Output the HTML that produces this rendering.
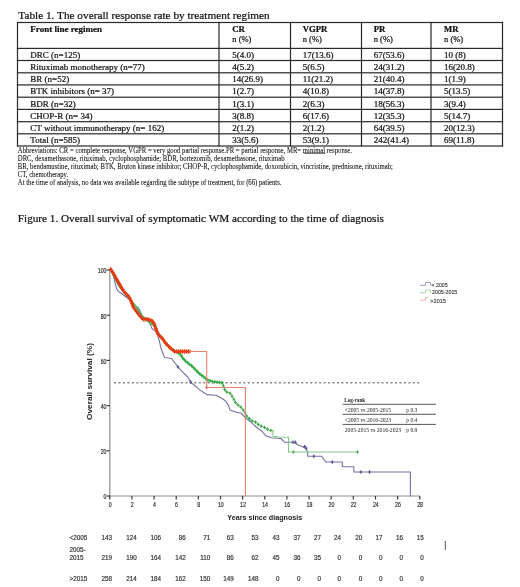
<!DOCTYPE html>
<html><head><meta charset="utf-8"><style>
html,body{margin:0;padding:0;background:#fff;width:520px;height:587px;overflow:hidden;font-family:"Liberation Serif",serif;}
</style></head><body>
<svg width="520" height="587" viewBox="0 0 520 587" style="position:absolute;left:0;top:0;will-change:transform">
<text x="18.3" y="18.8" font-family="Liberation Serif" font-size="11.27" fill="#111" stroke="#111" stroke-width="0.22">Table 1. The overall response rate by treatment regimen</text>
<rect x="16.9" y="21.9" width="486.2" height="1.2" fill="#2a2a2a"/>
<rect x="16.9" y="47.8" width="486.2" height="1.2" fill="#2a2a2a"/>
<rect x="16.9" y="59.9" width="486.2" height="1.2" fill="#2a2a2a"/>
<rect x="16.9" y="72.2" width="486.2" height="1.2" fill="#2a2a2a"/>
<rect x="16.9" y="84.30000000000001" width="486.2" height="1.2" fill="#2a2a2a"/>
<rect x="16.9" y="96.60000000000001" width="486.2" height="1.2" fill="#2a2a2a"/>
<rect x="16.9" y="108.80000000000001" width="486.2" height="1.2" fill="#2a2a2a"/>
<rect x="16.9" y="121.10000000000001" width="486.2" height="1.2" fill="#2a2a2a"/>
<rect x="16.9" y="133.20000000000002" width="486.2" height="1.2" fill="#2a2a2a"/>
<rect x="16.9" y="145.4" width="486.2" height="1.2" fill="#2a2a2a"/>
<rect x="16.9" y="21.9" width="1.2" height="124.7" fill="#2a2a2a"/>
<rect x="218.4" y="21.9" width="1.2" height="124.7" fill="#2a2a2a"/>
<rect x="289.9" y="21.9" width="1.2" height="124.7" fill="#2a2a2a"/>
<rect x="360.9" y="21.9" width="1.2" height="124.7" fill="#2a2a2a"/>
<rect x="430.4" y="21.9" width="1.2" height="124.7" fill="#2a2a2a"/>
<rect x="501.9" y="21.9" width="1.2" height="124.7" fill="#2a2a2a"/>
<text x="30.3" y="31.5" font-family="Liberation Serif" font-size="9" font-weight="bold" fill="#111" stroke="#111" stroke-width="0.22">Front line regimen</text>
<text x="232.3" y="31.5" font-family="Liberation Serif" font-size="8.7" font-weight="bold" fill="#111" stroke="#111" stroke-width="0.22">CR</text>
<text x="232.3" y="42" font-family="Liberation Serif" font-size="8.5" fill="#111" stroke="#111" stroke-width="0.22">n (%)</text>
<text x="302.7" y="31.5" font-family="Liberation Serif" font-size="8.7" font-weight="bold" fill="#111" stroke="#111" stroke-width="0.22">VGPR</text>
<text x="302.7" y="42" font-family="Liberation Serif" font-size="8.5" fill="#111" stroke="#111" stroke-width="0.22">n (%)</text>
<text x="373.7" y="31.5" font-family="Liberation Serif" font-size="8.7" font-weight="bold" fill="#111" stroke="#111" stroke-width="0.22">PR</text>
<text x="373.7" y="42" font-family="Liberation Serif" font-size="8.5" fill="#111" stroke="#111" stroke-width="0.22">n (%)</text>
<text x="444" y="31.5" font-family="Liberation Serif" font-size="8.7" font-weight="bold" fill="#111" stroke="#111" stroke-width="0.22">MR</text>
<text x="444" y="42" font-family="Liberation Serif" font-size="8.5" fill="#111" stroke="#111" stroke-width="0.22">n (%)</text>
<text x="30.3" y="57.7" font-family="Liberation Serif" font-size="9" fill="#111" stroke="#111" stroke-width="0.22">DRC (n=125)</text>
<text x="232.3" y="57.7" font-family="Liberation Serif" font-size="9" fill="#111" stroke="#111" stroke-width="0.22">5(4.0)</text>
<text x="302.7" y="57.7" font-family="Liberation Serif" font-size="9" fill="#111" stroke="#111" stroke-width="0.22">17(13.6)</text>
<text x="373.7" y="57.7" font-family="Liberation Serif" font-size="9" fill="#111" stroke="#111" stroke-width="0.22">67(53.6)</text>
<text x="444" y="57.7" font-family="Liberation Serif" font-size="9" fill="#111" stroke="#111" stroke-width="0.22">10 (8)</text>
<text x="30.3" y="69.8" font-family="Liberation Serif" font-size="9" fill="#111" stroke="#111" stroke-width="0.22">Rituximab monotherapy (n=77)</text>
<text x="232.3" y="69.8" font-family="Liberation Serif" font-size="9" fill="#111" stroke="#111" stroke-width="0.22">4(5.2)</text>
<text x="302.7" y="69.8" font-family="Liberation Serif" font-size="9" fill="#111" stroke="#111" stroke-width="0.22">5(6.5)</text>
<text x="373.7" y="69.8" font-family="Liberation Serif" font-size="9" fill="#111" stroke="#111" stroke-width="0.22">24(31.2)</text>
<text x="444" y="69.8" font-family="Liberation Serif" font-size="9" fill="#111" stroke="#111" stroke-width="0.22">16(20.8)</text>
<text x="30.3" y="82.1" font-family="Liberation Serif" font-size="9" fill="#111" stroke="#111" stroke-width="0.22">BR (n=52)</text>
<text x="232.3" y="82.1" font-family="Liberation Serif" font-size="9" fill="#111" stroke="#111" stroke-width="0.22">14(26.9)</text>
<text x="302.7" y="82.1" font-family="Liberation Serif" font-size="9" fill="#111" stroke="#111" stroke-width="0.22">11(21.2)</text>
<text x="373.7" y="82.1" font-family="Liberation Serif" font-size="9" fill="#111" stroke="#111" stroke-width="0.22">21(40.4)</text>
<text x="444" y="82.1" font-family="Liberation Serif" font-size="9" fill="#111" stroke="#111" stroke-width="0.22">1(1.9)</text>
<text x="30.3" y="94.2" font-family="Liberation Serif" font-size="9" fill="#111" stroke="#111" stroke-width="0.22">BTK inhibitors (n= 37)</text>
<text x="232.3" y="94.2" font-family="Liberation Serif" font-size="9" fill="#111" stroke="#111" stroke-width="0.22">1(2.7)</text>
<text x="302.7" y="94.2" font-family="Liberation Serif" font-size="9" fill="#111" stroke="#111" stroke-width="0.22">4(10.8)</text>
<text x="373.7" y="94.2" font-family="Liberation Serif" font-size="9" fill="#111" stroke="#111" stroke-width="0.22">14(37.8)</text>
<text x="444" y="94.2" font-family="Liberation Serif" font-size="9" fill="#111" stroke="#111" stroke-width="0.22">5(13.5)</text>
<text x="30.3" y="106.5" font-family="Liberation Serif" font-size="9" fill="#111" stroke="#111" stroke-width="0.22">BDR (n=32)</text>
<text x="232.3" y="106.5" font-family="Liberation Serif" font-size="9" fill="#111" stroke="#111" stroke-width="0.22">1(3.1)</text>
<text x="302.7" y="106.5" font-family="Liberation Serif" font-size="9" fill="#111" stroke="#111" stroke-width="0.22">2(6.3)</text>
<text x="373.7" y="106.5" font-family="Liberation Serif" font-size="9" fill="#111" stroke="#111" stroke-width="0.22">18(56.3)</text>
<text x="444" y="106.5" font-family="Liberation Serif" font-size="9" fill="#111" stroke="#111" stroke-width="0.22">3(9.4)</text>
<text x="30.3" y="118.7" font-family="Liberation Serif" font-size="9" fill="#111" stroke="#111" stroke-width="0.22">CHOP-R (n= 34)</text>
<text x="232.3" y="118.7" font-family="Liberation Serif" font-size="9" fill="#111" stroke="#111" stroke-width="0.22">3(8.8)</text>
<text x="302.7" y="118.7" font-family="Liberation Serif" font-size="9" fill="#111" stroke="#111" stroke-width="0.22">6(17.6)</text>
<text x="373.7" y="118.7" font-family="Liberation Serif" font-size="9" fill="#111" stroke="#111" stroke-width="0.22">12(35.3)</text>
<text x="444" y="118.7" font-family="Liberation Serif" font-size="9" fill="#111" stroke="#111" stroke-width="0.22">5(14.7)</text>
<text x="30.3" y="131.0" font-family="Liberation Serif" font-size="9" fill="#111" stroke="#111" stroke-width="0.22">CT without immunotherapy (n= 162)</text>
<text x="232.3" y="131.0" font-family="Liberation Serif" font-size="9" fill="#111" stroke="#111" stroke-width="0.22">2(1.2)</text>
<text x="302.7" y="131.0" font-family="Liberation Serif" font-size="9" fill="#111" stroke="#111" stroke-width="0.22">2(1.2)</text>
<text x="373.7" y="131.0" font-family="Liberation Serif" font-size="9" fill="#111" stroke="#111" stroke-width="0.22">64(39.5)</text>
<text x="444" y="131.0" font-family="Liberation Serif" font-size="9" fill="#111" stroke="#111" stroke-width="0.22">20(12.3)</text>
<text x="30.3" y="143.1" font-family="Liberation Serif" font-size="9" fill="#111" stroke="#111" stroke-width="0.22">Total (n=585)</text>
<text x="232.3" y="143.1" font-family="Liberation Serif" font-size="9" fill="#111" stroke="#111" stroke-width="0.22">33(5.6)</text>
<text x="302.7" y="143.1" font-family="Liberation Serif" font-size="9" fill="#111" stroke="#111" stroke-width="0.22">53(9.1)</text>
<text x="373.7" y="143.1" font-family="Liberation Serif" font-size="9" fill="#111" stroke="#111" stroke-width="0.22">242(41.4)</text>
<text x="444" y="143.1" font-family="Liberation Serif" font-size="9" fill="#111" stroke="#111" stroke-width="0.22">69(11.8)</text>
<text x="17.8" y="152.9" font-family="Liberation Serif" font-size="7.5" fill="#111" stroke="#111" stroke-width="0.08" textLength="334.2" lengthAdjust="spacingAndGlyphs">Abbreviations: CR = complete response, VGPR = very good partial response.PR = partial response, MR= minimal response.</text>
<text x="17.8" y="160.8" font-family="Liberation Serif" font-size="7.5" fill="#111" stroke="#111" stroke-width="0.08" textLength="266.8" lengthAdjust="spacingAndGlyphs">DRC, dexamethasone, rituximab, cyclophosphamide; BDR, bortezomib, dexamethasone, rituximab</text>
<text x="17.8" y="168.6" font-family="Liberation Serif" font-size="7.5" fill="#111" stroke="#111" stroke-width="0.08" textLength="375.2" lengthAdjust="spacingAndGlyphs">BR, bendamustine, rituximab; BTK, Bruton kinase inhibitor; CHOP-R, cyclophosphamide, doxorubicin, vincristine, prednisone, rituximab;</text>
<text x="17.8" y="176.6" font-family="Liberation Serif" font-size="7.5" fill="#111" stroke="#111" stroke-width="0.08" textLength="50.4" lengthAdjust="spacingAndGlyphs">CT, chemotherapy.</text>
<text x="17.8" y="184.5" font-family="Liberation Serif" font-size="7.5" fill="#111" stroke="#111" stroke-width="0.08" textLength="263.7" lengthAdjust="spacingAndGlyphs">At the time of analysis, no data was available regarding the subtype of treatment, for (66) patients.</text>
<rect x="303.5" y="152.8" width="22" height="0.8" fill="#222"/>
<text x="17.8" y="222.3" font-family="Liberation Serif" font-size="11.2" fill="#111" stroke="#111" stroke-width="0.22">Figure 1. Overall survival of symptomatic WM according to the time of diagnosis</text>
<line x1="109.8" y1="269.5" x2="109.8" y2="496.0" stroke="#8c8c8c" stroke-width="1.2"/>
<line x1="109.8" y1="496.0" x2="420.26000000000005" y2="496.0" stroke="#8c8c8c" stroke-width="1.2"/>
<line x1="106.6" y1="496.0" x2="109.8" y2="496.0" stroke="#3a3a3a" stroke-width="1.2"/>
<text x="106.5" y="499.3" font-family="Liberation Sans" font-size="6.4" fill="#222" stroke="#222" stroke-width="0.15" text-anchor="end" textLength="2.9" lengthAdjust="spacingAndGlyphs">0</text>
<line x1="106.6" y1="450.8" x2="109.8" y2="450.8" stroke="#3a3a3a" stroke-width="1.2"/>
<text x="106.5" y="454.1" font-family="Liberation Sans" font-size="6.4" fill="#222" stroke="#222" stroke-width="0.15" text-anchor="end" textLength="5.8" lengthAdjust="spacingAndGlyphs">20</text>
<line x1="106.6" y1="405.6" x2="109.8" y2="405.6" stroke="#3a3a3a" stroke-width="1.2"/>
<text x="106.5" y="408.9" font-family="Liberation Sans" font-size="6.4" fill="#222" stroke="#222" stroke-width="0.15" text-anchor="end" textLength="5.8" lengthAdjust="spacingAndGlyphs">40</text>
<line x1="106.6" y1="360.4" x2="109.8" y2="360.4" stroke="#3a3a3a" stroke-width="1.2"/>
<text x="106.5" y="363.7" font-family="Liberation Sans" font-size="6.4" fill="#222" stroke="#222" stroke-width="0.15" text-anchor="end" textLength="5.8" lengthAdjust="spacingAndGlyphs">60</text>
<line x1="106.6" y1="315.20000000000005" x2="109.8" y2="315.20000000000005" stroke="#3a3a3a" stroke-width="1.2"/>
<text x="106.5" y="318.5" font-family="Liberation Sans" font-size="6.4" fill="#222" stroke="#222" stroke-width="0.15" text-anchor="end" textLength="5.8" lengthAdjust="spacingAndGlyphs">80</text>
<line x1="106.6" y1="270.0" x2="109.8" y2="270.0" stroke="#3a3a3a" stroke-width="1.2"/>
<text x="106.5" y="273.3" font-family="Liberation Sans" font-size="6.4" fill="#222" stroke="#222" stroke-width="0.15" text-anchor="end" textLength="8.7" lengthAdjust="spacingAndGlyphs">100</text>
<line x1="109.8" y1="496.0" x2="109.8" y2="499.4" stroke="#3a3a3a" stroke-width="1.2"/>
<text x="110.1" y="506.7" font-family="Liberation Sans" font-size="6.4" fill="#222" stroke="#222" stroke-width="0.15" text-anchor="middle" textLength="2.9" lengthAdjust="spacingAndGlyphs">0</text>
<line x1="131.94" y1="496.0" x2="131.94" y2="499.4" stroke="#3a3a3a" stroke-width="1.2"/>
<text x="132.2" y="506.7" font-family="Liberation Sans" font-size="6.4" fill="#222" stroke="#222" stroke-width="0.15" text-anchor="middle" textLength="2.9" lengthAdjust="spacingAndGlyphs">2</text>
<line x1="154.07999999999998" y1="496.0" x2="154.07999999999998" y2="499.4" stroke="#3a3a3a" stroke-width="1.2"/>
<text x="154.4" y="506.7" font-family="Liberation Sans" font-size="6.4" fill="#222" stroke="#222" stroke-width="0.15" text-anchor="middle" textLength="2.9" lengthAdjust="spacingAndGlyphs">4</text>
<line x1="176.22" y1="496.0" x2="176.22" y2="499.4" stroke="#3a3a3a" stroke-width="1.2"/>
<text x="176.5" y="506.7" font-family="Liberation Sans" font-size="6.4" fill="#222" stroke="#222" stroke-width="0.15" text-anchor="middle" textLength="2.9" lengthAdjust="spacingAndGlyphs">6</text>
<line x1="198.36" y1="496.0" x2="198.36" y2="499.4" stroke="#3a3a3a" stroke-width="1.2"/>
<text x="198.7" y="506.7" font-family="Liberation Sans" font-size="6.4" fill="#222" stroke="#222" stroke-width="0.15" text-anchor="middle" textLength="2.9" lengthAdjust="spacingAndGlyphs">8</text>
<line x1="220.5" y1="496.0" x2="220.5" y2="499.4" stroke="#3a3a3a" stroke-width="1.2"/>
<text x="220.8" y="506.7" font-family="Liberation Sans" font-size="6.4" fill="#222" stroke="#222" stroke-width="0.15" text-anchor="middle" textLength="5.8" lengthAdjust="spacingAndGlyphs">10</text>
<line x1="242.64" y1="496.0" x2="242.64" y2="499.4" stroke="#3a3a3a" stroke-width="1.2"/>
<text x="242.9" y="506.7" font-family="Liberation Sans" font-size="6.4" fill="#222" stroke="#222" stroke-width="0.15" text-anchor="middle" textLength="5.8" lengthAdjust="spacingAndGlyphs">12</text>
<line x1="264.78000000000003" y1="496.0" x2="264.78000000000003" y2="499.4" stroke="#3a3a3a" stroke-width="1.2"/>
<text x="265.1" y="506.7" font-family="Liberation Sans" font-size="6.4" fill="#222" stroke="#222" stroke-width="0.15" text-anchor="middle" textLength="5.8" lengthAdjust="spacingAndGlyphs">14</text>
<line x1="286.92" y1="496.0" x2="286.92" y2="499.4" stroke="#3a3a3a" stroke-width="1.2"/>
<text x="287.2" y="506.7" font-family="Liberation Sans" font-size="6.4" fill="#222" stroke="#222" stroke-width="0.15" text-anchor="middle" textLength="5.8" lengthAdjust="spacingAndGlyphs">16</text>
<line x1="309.06" y1="496.0" x2="309.06" y2="499.4" stroke="#3a3a3a" stroke-width="1.2"/>
<text x="309.4" y="506.7" font-family="Liberation Sans" font-size="6.4" fill="#222" stroke="#222" stroke-width="0.15" text-anchor="middle" textLength="5.8" lengthAdjust="spacingAndGlyphs">18</text>
<line x1="331.2" y1="496.0" x2="331.2" y2="499.4" stroke="#3a3a3a" stroke-width="1.2"/>
<text x="331.5" y="506.7" font-family="Liberation Sans" font-size="6.4" fill="#222" stroke="#222" stroke-width="0.15" text-anchor="middle" textLength="5.8" lengthAdjust="spacingAndGlyphs">20</text>
<line x1="353.34000000000003" y1="496.0" x2="353.34000000000003" y2="499.4" stroke="#3a3a3a" stroke-width="1.2"/>
<text x="353.6" y="506.7" font-family="Liberation Sans" font-size="6.4" fill="#222" stroke="#222" stroke-width="0.15" text-anchor="middle" textLength="5.8" lengthAdjust="spacingAndGlyphs">22</text>
<line x1="375.48" y1="496.0" x2="375.48" y2="499.4" stroke="#3a3a3a" stroke-width="1.2"/>
<text x="375.8" y="506.7" font-family="Liberation Sans" font-size="6.4" fill="#222" stroke="#222" stroke-width="0.15" text-anchor="middle" textLength="5.8" lengthAdjust="spacingAndGlyphs">24</text>
<line x1="397.62" y1="496.0" x2="397.62" y2="499.4" stroke="#3a3a3a" stroke-width="1.2"/>
<text x="397.9" y="506.7" font-family="Liberation Sans" font-size="6.4" fill="#222" stroke="#222" stroke-width="0.15" text-anchor="middle" textLength="5.8" lengthAdjust="spacingAndGlyphs">26</text>
<line x1="419.76000000000005" y1="496.0" x2="419.76000000000005" y2="499.4" stroke="#3a3a3a" stroke-width="1.2"/>
<text x="420.1" y="506.7" font-family="Liberation Sans" font-size="6.4" fill="#222" stroke="#222" stroke-width="0.15" text-anchor="middle" textLength="5.8" lengthAdjust="spacingAndGlyphs">28</text>
<line x1="114" y1="382.8" x2="420" y2="382.8" stroke="#858585" stroke-width="1.4" stroke-dasharray="2,2.46"/>
<text x="264.8" y="520.2" font-family="Liberation Sans" font-size="7.2" font-weight="bold" fill="#222" text-anchor="middle">Years since diagnosis</text>
<text transform="translate(91.8,381.5) rotate(-90)" font-family="Liberation Sans" font-size="8" font-weight="bold" fill="#222" text-anchor="middle" textLength="77" lengthAdjust="spacingAndGlyphs">Overall survival (%)</text>
<polyline points="110.8,269.3 112.7,274.3 114.2,279.7 116.5,288.2 118.0,291.2 120.4,292.8 123.5,295.0 128.0,298.5 131.5,300.8 135.8,306.0 138.8,308.5 142.0,315.0 144.5,318.5 147.0,320.3 149.6,323.0 152.0,328.5 155.5,331.0 157.7,335.4 159.6,342.0 160.8,347.7 164.6,357.5 171.5,358.5 175.0,363.0 178.5,367.7 183.0,372.3 187.7,377.0 191.2,382.7 195.8,386.2 199.2,389.6 203.0,392.0 207.0,394.6 214.6,395.2 216.2,395.2 220.8,397.7 225.4,400.8 228.5,405.4 230.0,410.0 236.2,412.3 240.8,413.0 245.4,417.7 251.5,422.3 256.2,427.0 262.3,431.5 265.4,435.4 271.5,437.7 280.8,438.5 284.6,442.3 295.4,442.3 297.0,444.6 303.0,447.0 306.0,448.5 307.7,452.3 307.7,456.2 321.5,456.2 324.6,460.0 325.4,462.0 342.3,462.0 342.3,466.7 353.8,466.7 353.8,472.0 410.4,472.0 410.4,496.0" fill="none" stroke="#7272a8" stroke-width="1.1" stroke-linejoin="round" stroke-linecap="round" />
<polyline points="110.8,269.3 114.0,276.0 118.0,284.0 122.0,290.0 126.0,294.5 130.0,299.0 133.0,303.0 137.0,308.0 141.0,315.0 146.0,319.5 150.0,322.5 154.6,326.2 159.2,334.5 165.0,342.5 170.0,347.5 175.0,351.5 178.0,352.5" fill="none" stroke="#4cbc5c" stroke-width="2.0" stroke-linejoin="round" stroke-linecap="round" />
<polyline points="178.0,352.5 180.8,355.0 183.0,358.5 186.5,362.0 191.2,365.4 194.6,368.8 199.2,373.5 203.8,377.0 207.3,379.8 212.0,381.5 220.0,382.5 222.3,382.7" fill="none" stroke="#50bf60" stroke-width="1.6" stroke-linejoin="round" stroke-linecap="round" />
<path d="M178.0 350.7V354.3M176.5 352.5H179.5M179.8 352.3V355.9M178.3 354.1H181.3M181.4 354.1V357.7M179.9 355.9H182.9M182.6 356.1V359.7M181.1 357.9H184.1M184.2 357.9V361.5M182.7 359.7H185.7M185.9 359.6V363.2M184.4 361.4H187.4M187.8 361.1V364.7M186.3 362.9H189.3M189.7 362.5V366.1M188.2 364.3H191.2M191.6 364.0V367.6M190.1 365.8H193.1M193.3 365.7V369.3M191.8 367.5H194.8M195.0 367.4V371.0M193.5 369.2H196.5M196.7 369.1V372.7M195.2 370.9H198.2M198.3 370.8V374.4M196.8 372.6H199.8M200.1 372.4V376.0M198.6 374.2H201.6M202.0 373.9V377.5M200.5 375.7H203.5M204.0 375.3V378.9M202.5 377.1H205.5M205.8 376.8V380.4M204.3 378.6H207.3M207.8 378.2V381.8M206.3 380.0H209.3M210.0 379.0V382.6M208.5 380.8H211.5M212.3 379.7V383.3M210.8 381.5H213.8M214.7 380.0V383.6M213.2 381.8H216.2M217.1 380.3V383.9M215.6 382.1H218.6M219.5 380.6V384.2M218.0 382.4H221.0M221.8 380.9V384.5M220.3 382.7H223.3" stroke="#34a844" stroke-width="1.0" fill="none"/>
<polyline points="222.3,382.7 223.8,387.0 225.4,391.5 230.0,393.0 233.0,397.7 236.2,403.8 240.8,407.0 243.8,410.8 246.9,416.2 251.5,420.8 256.2,422.3 259.2,425.4 265.4,427.7 268.5,430.0 273.0,430.8" fill="none" stroke="#6cc67a" stroke-width="1.1" stroke-linejoin="round" stroke-linecap="round" />
<path d="M222.3 381.0V384.4M220.9 382.7H223.7M223.5 384.4V387.8M222.1 386.1H224.9M224.7 387.8V391.2M223.3 389.5H226.1M226.8 390.3V393.7M225.4 392.0H228.2M230.1 391.5V394.9M228.7 393.2H231.5M232.1 394.5V397.9M230.7 396.2H233.5M233.9 397.6V401.0M232.5 399.3H235.3M235.5 400.8V404.2M234.1 402.5H236.9M238.0 403.3V406.7M236.6 405.0H239.4M240.9 405.4V408.8M239.5 407.1H242.3M243.1 408.3V411.7M241.7 410.0H244.5M245.1 411.3V414.7M243.7 413.0H246.5M246.8 414.4V417.8M245.4 416.1H248.2M249.4 417.0V420.4M248.0 418.7H250.8M252.1 419.3V422.7M250.7 421.0H253.5M255.5 420.4V423.8M254.1 422.1H256.9M258.2 422.7V426.1M256.8 424.4H259.6M261.2 424.4V427.8M259.8 426.1H262.6M264.6 425.7V429.1M263.2 427.4H266.0M267.6 427.6V431.0M266.2 429.3H269.0M270.9 428.7V432.1M269.5 430.4H272.3" stroke="#2f9f40" stroke-width="0.9" fill="none"/>
<polyline points="273.0,430.8 273.0,436.2 279.2,437.0 288.5,437.2 288.5,452.0 358.5,452.0" fill="none" stroke="#80c88a" stroke-width="1.1" stroke-linejoin="round" stroke-linecap="round" />
<polyline points="110.8,269.3 113.5,273.5 116.5,279.0 119.6,284.3 122.7,289.7 125.8,293.5 129.4,297.4 131.5,302.0 133.0,306.5 136.2,311.2 140.8,317.0 143.1,319.3 147.7,319.3 152.3,321.0 154.6,324.4 155.8,328.5 158.1,334.2 162.7,338.8 165.4,343.0 170.0,347.7 174.6,351.5 190.0,351.5" fill="none" stroke="#e6441c" stroke-width="2.6" stroke-linejoin="round" stroke-linecap="round" />
<path d="M110.8 267.1V271.5M109.0 269.3H112.6M111.9 268.8V273.2M110.1 271.0H113.7M113.0 270.5V274.9M111.2 272.7H114.8M114.0 272.2V276.6M112.2 274.4H115.8M114.9 273.9V278.3M113.1 276.1H116.7M115.9 275.7V280.1M114.1 277.9H117.7M116.9 277.4V281.8M115.1 279.6H118.7M117.9 279.2V283.6M116.1 281.4H119.7M118.9 280.9V285.3M117.1 283.1H120.7M119.9 282.6V287.0M118.1 284.8H121.7M120.9 284.4V288.8M119.1 286.6H122.7M121.9 286.1V290.5M120.1 288.3H123.7M122.9 287.8V292.2M121.1 290.0H124.7M124.2 289.3V293.7M122.4 291.5H126.0M125.5 290.9V295.3M123.7 293.1H127.3M126.8 292.4V296.8M125.0 294.6H128.6M128.2 293.9V298.3M126.4 296.1H130.0M129.5 295.3V299.7M127.7 297.5H131.3M130.3 297.2V301.6M128.5 299.4H132.1M131.1 299.0V303.4M129.3 301.2H132.9M131.9 300.9V305.3M130.1 303.1H133.7M132.5 302.7V307.1M130.7 304.9H134.3M133.2 304.6V309.0M131.4 306.8H135.0M134.3 306.3V310.7M132.5 308.5H136.1M135.5 307.9V312.3M133.7 310.1H137.3M136.6 309.5V313.9M134.8 311.7H138.4M137.9 311.1V315.5M136.1 313.3H139.7M139.1 312.7V317.1M137.3 314.9H140.9M140.3 314.2V318.6M138.5 316.4H142.1M141.7 315.7V320.1M139.9 317.9H143.5M143.1 317.1V321.5M141.3 319.3H144.9M145.1 317.1V321.5M143.3 319.3H146.9M147.1 317.1V321.5M145.3 319.3H148.9M149.0 317.6V322.0M147.2 319.8H150.8M150.9 318.3V322.7M149.1 320.5H152.7M152.6 319.2V323.6M150.8 321.4H154.4M153.7 320.9V325.3M151.9 323.1H155.5M154.7 322.6V327.0M152.9 324.8H156.5M155.3 324.5V328.9M153.5 326.7H157.1M155.9 326.4V330.8M154.1 328.6H157.7M156.6 328.3V332.7M154.8 330.5H158.4M157.3 330.1V334.5M155.5 332.3H159.1M158.1 332.0V336.4M156.3 334.2H159.9M159.5 333.4V337.8M157.7 335.6H161.3M160.9 334.8V339.2M159.1 337.0H162.7M162.3 336.2V340.6M160.5 338.4H164.1M163.5 337.9V342.3M161.7 340.1H165.3M164.6 339.5V343.9M162.8 341.7H166.4M165.7 341.2V345.6M163.9 343.4H167.5M167.1 342.6V347.0M165.3 344.8H168.9M168.5 344.0V348.4M166.7 346.2H170.3M169.9 345.4V349.8M168.1 347.6H171.7M171.5 346.7V351.1M169.7 348.9H173.3M173.0 348.0V352.4M171.2 350.2H174.8M174.6 349.3V353.7M172.8 351.5H176.4M176.6 349.3V353.7M174.8 351.5H178.4M178.6 349.3V353.7M176.8 351.5H180.4M180.6 349.3V353.7M178.8 351.5H182.4M182.6 349.3V353.7M180.8 351.5H184.4M184.6 349.3V353.7M182.8 351.5H186.4M186.6 349.3V353.7M184.8 351.5H188.4M188.6 349.3V353.7M186.8 351.5H190.4" stroke="#e23c14" stroke-width="1.1" fill="none"/>
<polyline points="190.0,351.5 206.7,351.5 206.7,387.5 245.4,387.5 245.4,496.0" fill="none" stroke="#e6826a" stroke-width="1.1" stroke-linejoin="round" stroke-linecap="round" />
<path d="M206.7 386.0V389.0M205.2 387.5H208.2" stroke="#e06a50" stroke-width="1.0" fill="none"/>
<path d="M293 440.5V444.1M291.6 442.3H294.4" stroke="#55558f" stroke-width="1.1"/>
<path d="M295.4 440.5V444.1M294.0 442.3H296.79999999999995" stroke="#55558f" stroke-width="1.1"/>
<path d="M304.6 444.7V448.3M303.20000000000005 446.5H306.0" stroke="#55558f" stroke-width="1.1"/>
<path d="M306.2 446.5V450.1M304.8 448.3H307.59999999999997" stroke="#55558f" stroke-width="1.1"/>
<path d="M313.8 454.4V458.0M312.40000000000003 456.2H315.2" stroke="#55558f" stroke-width="1.1"/>
<path d="M332.3 460.2V463.8M330.90000000000003 462H333.7" stroke="#55558f" stroke-width="1.1"/>
<path d="M360.8 470.2V473.8M359.40000000000003 472H362.2" stroke="#55558f" stroke-width="1.1"/>
<path d="M369.5 470.2V473.8M368.1 472H370.9" stroke="#55558f" stroke-width="1.1"/>
<path d="M178 365.2V368.8M176.6 367H179.4" stroke="#55558f" stroke-width="1.1"/>
<path d="M190.6 380.2V383.8M189.2 382H192.0" stroke="#55558f" stroke-width="1.1"/>
<path d="M293.5 450.2V453.8M292.1 452H294.9" stroke="#5aa866" stroke-width="1"/>
<path d="M357.5 450.2V453.8M356.1 452H358.9" stroke="#5aa866" stroke-width="1"/>
<polyline points="420.1,285.3 425.40000000000003,285.3 425.6,282.5 430.5,282.5 430.70000000000005,285.3" fill="none" stroke="#9a9abe" stroke-width="1"/>
<text x="431.5" y="287.1" font-family="Liberation Sans" font-size="5.5" fill="#333" stroke="#333" stroke-width="0.12" textLength="16.2" lengthAdjust="spacingAndGlyphs">&lt; 2005</text>
<polyline points="420.1,292.7 425.40000000000003,292.7 425.6,290.0 430.5,290.0 430.70000000000005,292.7" fill="none" stroke="#a8d4aa" stroke-width="1"/>
<text x="432" y="294.3" font-family="Liberation Sans" font-size="5.5" fill="#333" stroke="#333" stroke-width="0.12" textLength="25.3" lengthAdjust="spacingAndGlyphs">2005-2015</text>
<polyline points="420.1,300.2 425.40000000000003,300.2 425.6,297.4 428.6,297.4" fill="none" stroke="#f0b4aa" stroke-width="1"/>
<text x="430.3" y="303.0" font-family="Liberation Sans" font-size="5.5" fill="#333" stroke="#333" stroke-width="0.12" textLength="15.6" lengthAdjust="spacingAndGlyphs">&gt;2015</text>
<text x="344.2" y="402.2" font-family="Liberation Serif" font-size="5.2" font-weight="bold" fill="#222">Log-rank</text>
<rect x="342.5" y="403.8" width="93.5" height="0.9" fill="#444"/>
<rect x="342.5" y="413.8" width="93.5" height="0.9" fill="#444"/>
<rect x="342.5" y="423.9" width="93.5" height="0.9" fill="#444"/>
<text x="344.8" y="412.4" font-family="Liberation Serif" font-size="5.6" fill="#222">&lt;2005 vs 2005-2015</text>
<text x="406.2" y="412.4" font-family="Liberation Serif" font-size="5.6" fill="#222">p 0.3</text>
<text x="344.8" y="422.4" font-family="Liberation Serif" font-size="5.6" fill="#222">&lt;2005 vs 2016-2023</text>
<text x="406.2" y="422.4" font-family="Liberation Serif" font-size="5.6" fill="#222">p 0.4</text>
<text x="344.8" y="431.6" font-family="Liberation Serif" font-size="5.6" fill="#222">2005-2015 vs 2016-2023</text>
<text x="406.2" y="431.6" font-family="Liberation Serif" font-size="5.6" fill="#222">p 0.9</text>
<text x="69.5" y="539.5" font-family="Liberation Sans" font-size="6.3" fill="#333" stroke="#333" stroke-width="0.18">&lt;2005</text>
<text x="69.5" y="551.6" font-family="Liberation Sans" font-size="6.3" fill="#333" stroke="#333" stroke-width="0.18">2005-</text>
<text x="69.5" y="559.7" font-family="Liberation Sans" font-size="6.3" fill="#333" stroke="#333" stroke-width="0.18">2015</text>
<text x="69.5" y="580.5" font-family="Liberation Sans" font-size="6.3" fill="#333" stroke="#333" stroke-width="0.18">&gt;2015</text>
<text x="112.1" y="539.5" font-family="Liberation Sans" font-size="6.3" fill="#333" stroke="#333" stroke-width="0.18" text-anchor="end">143</text>
<text x="136.7" y="539.5" font-family="Liberation Sans" font-size="6.3" fill="#333" stroke="#333" stroke-width="0.18" text-anchor="end">124</text>
<text x="161" y="539.5" font-family="Liberation Sans" font-size="6.3" fill="#333" stroke="#333" stroke-width="0.18" text-anchor="end">106</text>
<text x="185.7" y="539.5" font-family="Liberation Sans" font-size="6.3" fill="#333" stroke="#333" stroke-width="0.18" text-anchor="end">86</text>
<text x="210.2" y="539.5" font-family="Liberation Sans" font-size="6.3" fill="#333" stroke="#333" stroke-width="0.18" text-anchor="end">71</text>
<text x="233.8" y="539.5" font-family="Liberation Sans" font-size="6.3" fill="#333" stroke="#333" stroke-width="0.18" text-anchor="end">63</text>
<text x="258.6" y="539.5" font-family="Liberation Sans" font-size="6.3" fill="#333" stroke="#333" stroke-width="0.18" text-anchor="end">53</text>
<text x="279.6" y="539.5" font-family="Liberation Sans" font-size="6.3" fill="#333" stroke="#333" stroke-width="0.18" text-anchor="end">43</text>
<text x="300.6" y="539.5" font-family="Liberation Sans" font-size="6.3" fill="#333" stroke="#333" stroke-width="0.18" text-anchor="end">37</text>
<text x="320.9" y="539.5" font-family="Liberation Sans" font-size="6.3" fill="#333" stroke="#333" stroke-width="0.18" text-anchor="end">27</text>
<text x="340.9" y="539.5" font-family="Liberation Sans" font-size="6.3" fill="#333" stroke="#333" stroke-width="0.18" text-anchor="end">24</text>
<text x="362.2" y="539.5" font-family="Liberation Sans" font-size="6.3" fill="#333" stroke="#333" stroke-width="0.18" text-anchor="end">20</text>
<text x="382.5" y="539.5" font-family="Liberation Sans" font-size="6.3" fill="#333" stroke="#333" stroke-width="0.18" text-anchor="end">17</text>
<text x="403" y="539.5" font-family="Liberation Sans" font-size="6.3" fill="#333" stroke="#333" stroke-width="0.18" text-anchor="end">16</text>
<text x="423.7" y="539.5" font-family="Liberation Sans" font-size="6.3" fill="#333" stroke="#333" stroke-width="0.18" text-anchor="end">15</text>
<text x="112.1" y="559.7" font-family="Liberation Sans" font-size="6.3" fill="#333" stroke="#333" stroke-width="0.18" text-anchor="end">219</text>
<text x="136.7" y="559.7" font-family="Liberation Sans" font-size="6.3" fill="#333" stroke="#333" stroke-width="0.18" text-anchor="end">190</text>
<text x="161" y="559.7" font-family="Liberation Sans" font-size="6.3" fill="#333" stroke="#333" stroke-width="0.18" text-anchor="end">164</text>
<text x="185.7" y="559.7" font-family="Liberation Sans" font-size="6.3" fill="#333" stroke="#333" stroke-width="0.18" text-anchor="end">142</text>
<text x="210.2" y="559.7" font-family="Liberation Sans" font-size="6.3" fill="#333" stroke="#333" stroke-width="0.18" text-anchor="end">110</text>
<text x="233.8" y="559.7" font-family="Liberation Sans" font-size="6.3" fill="#333" stroke="#333" stroke-width="0.18" text-anchor="end">86</text>
<text x="258.6" y="559.7" font-family="Liberation Sans" font-size="6.3" fill="#333" stroke="#333" stroke-width="0.18" text-anchor="end">62</text>
<text x="279.6" y="559.7" font-family="Liberation Sans" font-size="6.3" fill="#333" stroke="#333" stroke-width="0.18" text-anchor="end">45</text>
<text x="300.6" y="559.7" font-family="Liberation Sans" font-size="6.3" fill="#333" stroke="#333" stroke-width="0.18" text-anchor="end">36</text>
<text x="320.9" y="559.7" font-family="Liberation Sans" font-size="6.3" fill="#333" stroke="#333" stroke-width="0.18" text-anchor="end">35</text>
<text x="340.9" y="559.7" font-family="Liberation Sans" font-size="6.3" fill="#333" stroke="#333" stroke-width="0.18" text-anchor="end">0</text>
<text x="362.2" y="559.7" font-family="Liberation Sans" font-size="6.3" fill="#333" stroke="#333" stroke-width="0.18" text-anchor="end">0</text>
<text x="382.5" y="559.7" font-family="Liberation Sans" font-size="6.3" fill="#333" stroke="#333" stroke-width="0.18" text-anchor="end">0</text>
<text x="403" y="559.7" font-family="Liberation Sans" font-size="6.3" fill="#333" stroke="#333" stroke-width="0.18" text-anchor="end">0</text>
<text x="423.7" y="559.7" font-family="Liberation Sans" font-size="6.3" fill="#333" stroke="#333" stroke-width="0.18" text-anchor="end">0</text>
<text x="112.1" y="580.5" font-family="Liberation Sans" font-size="6.3" fill="#333" stroke="#333" stroke-width="0.18" text-anchor="end">258</text>
<text x="136.7" y="580.5" font-family="Liberation Sans" font-size="6.3" fill="#333" stroke="#333" stroke-width="0.18" text-anchor="end">214</text>
<text x="161" y="580.5" font-family="Liberation Sans" font-size="6.3" fill="#333" stroke="#333" stroke-width="0.18" text-anchor="end">184</text>
<text x="185.7" y="580.5" font-family="Liberation Sans" font-size="6.3" fill="#333" stroke="#333" stroke-width="0.18" text-anchor="end">162</text>
<text x="210.2" y="580.5" font-family="Liberation Sans" font-size="6.3" fill="#333" stroke="#333" stroke-width="0.18" text-anchor="end">150</text>
<text x="233.8" y="580.5" font-family="Liberation Sans" font-size="6.3" fill="#333" stroke="#333" stroke-width="0.18" text-anchor="end">149</text>
<text x="258.6" y="580.5" font-family="Liberation Sans" font-size="6.3" fill="#333" stroke="#333" stroke-width="0.18" text-anchor="end">148</text>
<text x="279.6" y="580.5" font-family="Liberation Sans" font-size="6.3" fill="#333" stroke="#333" stroke-width="0.18" text-anchor="end">0</text>
<text x="300.6" y="580.5" font-family="Liberation Sans" font-size="6.3" fill="#333" stroke="#333" stroke-width="0.18" text-anchor="end">0</text>
<text x="320.9" y="580.5" font-family="Liberation Sans" font-size="6.3" fill="#333" stroke="#333" stroke-width="0.18" text-anchor="end">0</text>
<text x="340.9" y="580.5" font-family="Liberation Sans" font-size="6.3" fill="#333" stroke="#333" stroke-width="0.18" text-anchor="end">0</text>
<text x="362.2" y="580.5" font-family="Liberation Sans" font-size="6.3" fill="#333" stroke="#333" stroke-width="0.18" text-anchor="end">0</text>
<text x="382.5" y="580.5" font-family="Liberation Sans" font-size="6.3" fill="#333" stroke="#333" stroke-width="0.18" text-anchor="end">0</text>
<text x="403" y="580.5" font-family="Liberation Sans" font-size="6.3" fill="#333" stroke="#333" stroke-width="0.18" text-anchor="end">0</text>
<text x="423.7" y="580.5" font-family="Liberation Sans" font-size="6.3" fill="#333" stroke="#333" stroke-width="0.18" text-anchor="end">0</text>
<rect x="444.8" y="541" width="0.9" height="9" fill="#444"/>
</svg>
</body></html>
